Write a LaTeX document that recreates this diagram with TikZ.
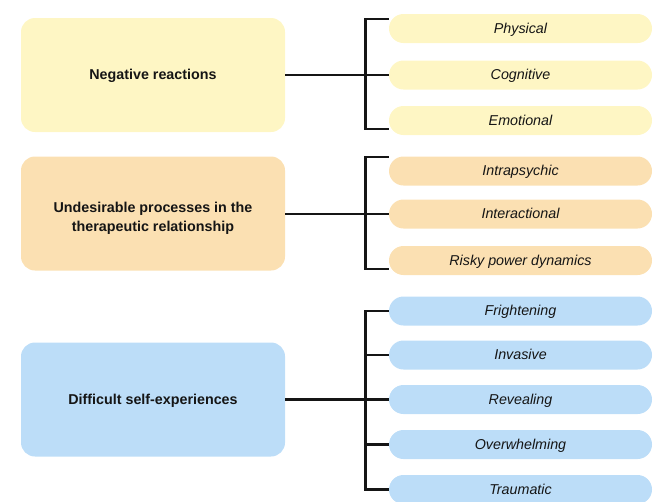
\documentclass[tikz,border=0pt]{standalone}
\usepackage{fontspec}
\setmainfont{Liberation Sans}
\definecolor{yel}{HTML}{FEF6C4}
\definecolor{peach}{HTML}{FBE0B2}
\definecolor{sky}{HTML}{BCDDF8}
\definecolor{ink}{HTML}{151515}
\newcommand\twolines[2]{\raisebox{-8pt}[0pt][0pt]{\begin{tabular}{@{}c@{}}#1\\#2\end{tabular}}}
\begin{document}
\begin{tikzpicture}[x=1pt,y=-1pt,
 mainbox/.style={rounded corners=14pt, minimum width=264pt, minimum height=114pt, font=\bfseries\fontsize{14.3}{19}\selectfont, text=ink, inner sep=0pt, text height=0.9em, text depth=0pt},
 pill/.style={rounded corners=14.5pt, minimum width=263pt, minimum height=29pt, font=\itshape\fontsize{14.3}{16}\selectfont, text=ink, inner sep=0pt, text height=0.9em, text depth=0pt},
 link/.style={line width=2.3pt, draw=ink}]
\useasboundingbox (0,0) rectangle (658,501);
\clip (0,0) rectangle (658,501);
\coordinate (bx) at (365.5,0);
% group 1
\node[mainbox, fill=yel] (b1) at (153,75) {Negative reactions};
\node[pill, fill=yel] (p11) at (520.5,28.5) {Physical};
\node[pill, fill=yel] (p12) at (520.5,75) {Cognitive};
\node[pill, fill=yel] (p13) at (520.5,120.5) {Emotional};
\coordinate (g1t) at (365.5,19);
\coordinate (g1b) at (365.5,129);
\draw[link] (b1.east) -- (p12.west);
\draw[link] (g1t -| p11.west) -- (g1t) -- (g1b) -- (g1b -| p13.west);
% group 2
\node[mainbox, fill=peach, text height=0pt] (b2) at (153,213.5) {\twolines{Undesirable processes in the}{therapeutic relationship}};
\node[pill, fill=peach] (p21) at (520.5,171) {Intrapsychic};
\node[pill, fill=peach] (p22) at (520.5,214) {Interactional};
\node[pill, fill=peach] (p23) at (520.5,260.5) {Risky power dynamics};
\coordinate (g2t) at (365.5,157);
\coordinate (g2b) at (365.5,269);
\draw[link] (b2.east |- p22.west) -- (p22.west);
\draw[link] (g2t -| p21.west) -- (g2t) -- (g2b) -- (g2b -| p23.west);
% group 3
\node[mainbox, fill=sky] (b3) at (153,399.5) {Difficult self-experiences};
\node[pill, fill=sky] (p31) at (520.5,311) {Frightening};
\node[pill, fill=sky] (p32) at (520.5,355) {Invasive};
\node[pill, fill=sky] (p33) at (520.5,399.5) {Revealing};
\node[pill, fill=sky] (p34) at (520.5,444.5) {Overwhelming};
\node[pill, fill=sky] (p35) at (520.5,489.5) {Traumatic};
\draw[link] (b3.east) -- (p33.west);
\draw[link] (p31.west) -- (p31.west -| bx) -- (p35.west -| bx) -- (p35.west);
\draw[link] (p32.west -| bx) -- (p32.west);
\draw[link] (p34.west -| bx) -- (p34.west);
\end{tikzpicture}
\end{document}
